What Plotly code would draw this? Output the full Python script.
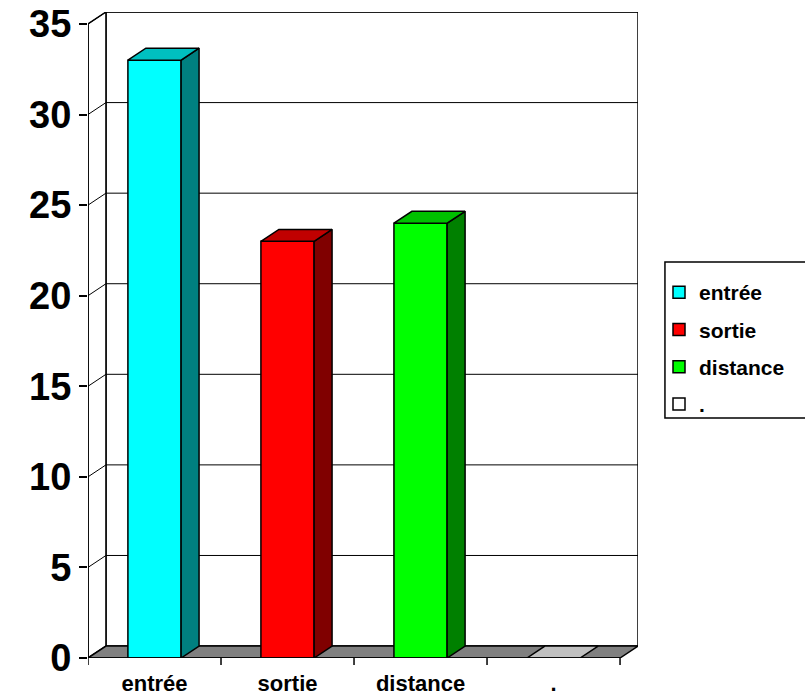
import plotly.graph_objects as go

categories = ["entrée", "sortie", "distance", "."]
values = [33, 23, 24, 0]
front_colors = ["#00FFFF", "#FF0000", "#00FF00", "#FFFFFF"]
top_colors = ["#00C0C0", "#C00000", "#00C000", "#C0C0C0"]
side_colors = ["#008080", "#800000", "#008000", "#808080"]
y_ticks = [0, 5, 10, 15, 20, 25, 30, 35]

# style constants (3-D look)
DX = 0.135     # depth offset in x units
DY = 0.66      # depth offset in y units
BW = 0.4       # bar width
YMAX = 35
n = len(categories)
xs = list(range(n))
x0, x1 = -0.5, n - 0.5

FONT = "Arial, Liberation Sans, sans-serif"
fig = go.Figure()

shapes = []
line = dict(color="black", width=1.5)
# back wall
shapes.append(dict(type="rect", xref="x", yref="y", x0=x0 + DX, x1=x1 + DX, y0=DY, y1=YMAX + DY,
                   line=line, fillcolor="white", layer="below"))
# left wall outline
shapes.append(dict(type="path", xref="x", yref="y",
                   path=f"M{x0},0 L{x0},{YMAX} L{x0+DX},{YMAX+DY} L{x0+DX},{DY} Z",
                   line=line, fillcolor="white", layer="below"))
# gridlines on walls
for v in y_ticks[1:]:
    shapes.append(dict(type="path", xref="x", yref="y",
                       path=f"M{x0},{v} L{x0+DX},{v+DY} L{x1+DX},{v+DY}",
                       line=dict(color="black", width=1), layer="below"))
# floor
shapes.append(dict(type="path", xref="x", yref="y",
                   path=f"M{x0},0 L{x1},0 L{x1+DX},{DY} L{x0+DX},{DY} Z",
                   line=line, fillcolor="#808080", layer="below"))
# x tick marks at category boundaries
for i in range(n + 1):
    xb = x0 + i
    shapes.append(dict(type="line", xref="x", yref="paper", x0=xb, x1=xb, y0=0, y1=-0.011,
                       line=line, layer="above"))
# legend frame
shapes.append(dict(type="rect", xref="paper", yref="paper",
                   x0=1.049, x1=1.35, y0=(658 - 418) / 646, y1=(658 - 262) / 646,
                   line=dict(color="black", width=1.5), fillcolor="white", layer="above"))

# bars: front faces
for i in range(n):
    fig.add_trace(go.Bar(
        x=[xs[i]], y=[values[i]], name=categories[i], width=BW,
        marker=dict(color=front_colors[i], line=dict(color="black", width=1.5)),
        hoverinfo="skip", legendgroup=str(i)))

# side and top faces
for i in range(n):
    c, v = xs[i], values[i]
    l, r = c - BW / 2, c + BW / 2
    if v > 0:
        fig.add_trace(go.Scatter(
            x=[r, r + DX, r + DX, r, r], y=[0, DY, v + DY, v, 0],
            fill="toself", fillcolor=side_colors[i], mode="lines",
            line=dict(color="black", width=1.5), showlegend=False, hoverinfo="skip"))
    fig.add_trace(go.Scatter(
        x=[l, r, r + DX, l + DX, l], y=[v, v, v + DY, v + DY, v],
        fill="toself", fillcolor=top_colors[i], mode="lines",
        line=dict(color="black", width=1.5), showlegend=False, hoverinfo="skip"))

fig.update_layout(
    width=805, height=695,
    margin=dict(l=88, r=167, t=12, b=37, autoexpand=False),
    paper_bgcolor="white", plot_bgcolor="white",
    barmode="overlay",
    shapes=shapes,
    font=dict(family=FONT, color="black"),
    xaxis=dict(range=[x0, x1 + DX], tickvals=xs, ticktext=categories,
               showgrid=False, zeroline=False, showline=False,
               ticks="outside", ticklen=6, tickcolor="rgba(0,0,0,0)",
               tickfont=dict(size=22, weight="bold", family=FONT)),
    yaxis=dict(range=[0, YMAX + DY], tickvals=y_ticks,
               showgrid=False, zeroline=False, showline=False,
               ticks="outside", ticklen=8, tickwidth=1.5, tickcolor="black",
               tickfont=dict(size=38, weight="bold", family=FONT)),
    legend=dict(x=(659 - 88) / 550, y=(658 - 272) / 646, xanchor="left", yanchor="top",
                borderwidth=0, bgcolor="rgba(0,0,0,0)",
                font=dict(size=21, weight="bold", family=FONT),
                traceorder="grouped", tracegroupgap=7),
    showlegend=True,
)
# front y axis line
fig.add_shape(type="line", xref="x", yref="y", x0=x0, x1=x0, y0=0, y1=YMAX, line=line, layer="below")
fig.add_shape(type="line", xref="x", yref="y", x0=x0, x1=x1, y0=0, y1=0, line=line, layer="above")

fig.write_html("out.html")
